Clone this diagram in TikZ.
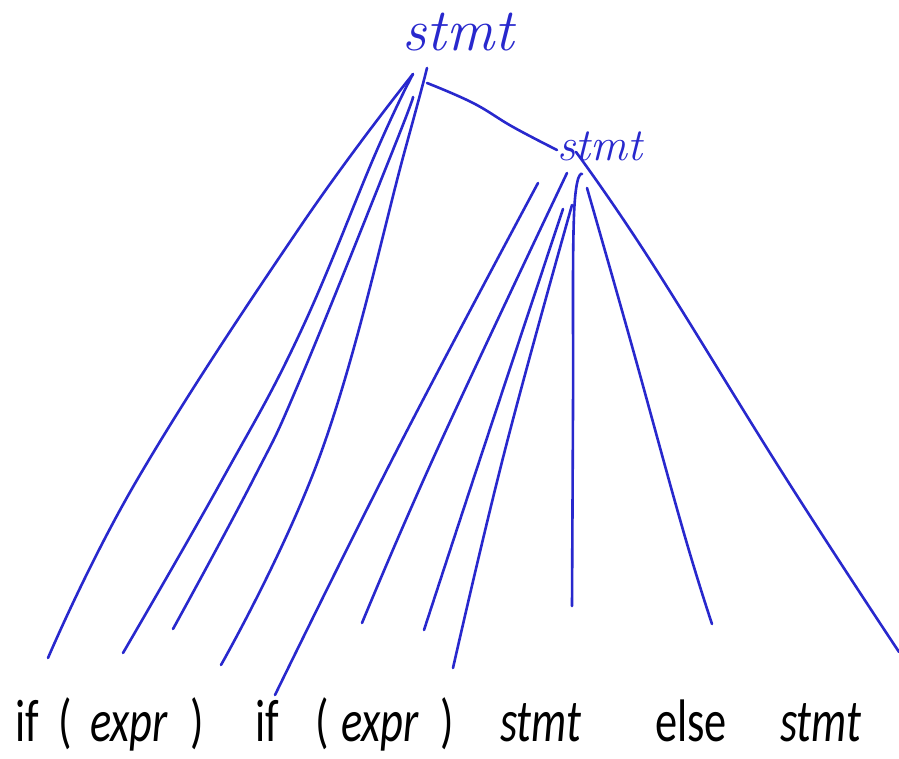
\documentclass[tikz,border=0pt]{standalone}
\usepackage{fontspec}
\usepackage{tikz}
\newfontfamily\calib[FakeStretch=0.74]{Carlito}
\definecolor{ink}{RGB}{40,40,205}

\begin{document}
\begin{tikzpicture}[x=1pt, y=1pt,
  hand/.style={text=ink, inner sep=0pt, font=\itshape\fontsize{60}{60}\selectfont},
  tok/.style={anchor=base west, inner sep=0pt, font=\calib\fontsize{60}{60}\selectfont},
  nterm/.style={tok, font=\calib\itshape\fontsize{60}{60}\selectfont},
  edge/.style={draw=ink, line width=2.6pt, line cap=round}
]
\useasboundingbox (0,0) rectangle (899,759);

% the two hand-written stmt nodes
\node[hand] (top) at (458,727) {stmt};
\node[hand, font=\itshape\fontsize{46}{46}\selectfont] (inner) at (600,613) {stmt};

% the tokens along the bottom
\node[tok] (if1) at (15,17) {if};
\node[tok] (lp1) at (58,17) {(};
\node[nterm] (expr1) at (90,17) {expr};
\node[tok] (rp1) at (190,17) {)};
\node[tok] (if2) at (255,17) {if};
\node[tok] (lp2) at (315,17) {(};
\node[nterm] (expr2) at (341,17) {expr};
\node[tok] (rp2) at (440,17) {)};
\node[nterm] (body1) at (500,17) {stmt};
\node[tok] (else) at (655,17) {else};
\node[nterm] (body2) at (780,17) {stmt};

% loose ends of the strokes
\coordinate (a1) at (413,685); \coordinate (b1) at (48,101);
\coordinate (a2) at (413,685); \coordinate (b2) at (123,106);
\coordinate (a3) at (413,662); \coordinate (b3) at (173,130);
\coordinate (a4) at (427,691); \coordinate (b4) at (221,94);
\coordinate (a5) at (427,676); \coordinate (b5) at (557,609);
\coordinate (c1) at (538,576); \coordinate (d1) at (275,64);
\coordinate (c2) at (567,586); \coordinate (d2) at (362,136);
\coordinate (c3) at (563,550); \coordinate (d3) at (424,129);
\coordinate (c4) at (572,554); \coordinate (d4) at (453,91);
\coordinate (c5) at (582,585); \coordinate (d5) at (572,153);
\coordinate (c6) at (587,571); \coordinate (d6) at (712,135);
\coordinate (c7) at (576,607); \coordinate (d7) at (899,107);

% children of the outer stmt
\draw[edge] plot[smooth, tension=0.7] coordinates {(a1) (300,532) (137,279) (b1)};
\draw[edge] plot[smooth, tension=0.7] coordinates {(a2) (377,609) (300,426) (222,279) (b2)};
\draw[edge] plot[smooth, tension=0.7] coordinates {(a3) (393,609) (300,379) (253,279) (b3)};
\draw[edge] plot[smooth, tension=0.7] coordinates {(a4) (405,609) (322,309) (b4)};
\draw[edge] plot[smooth, tension=0.7] coordinates {(a5) (473,656) (513,632) (b5)};

% children of the inner stmt
\draw[edge] plot[smooth, tension=0.7] coordinates {(c1) (397,309) (d1)};
\draw[edge] plot[smooth, tension=0.7] coordinates {(c2) (437,309) (d2)};
\draw[edge] plot[smooth, tension=0.7] coordinates {(c3) (483,309) (d3)};
\draw[edge] plot[smooth, tension=0.7] coordinates {(c4) (505,309) (d4)};
\draw[edge] plot[smooth, tension=0.7] coordinates {(c5) (574,544) (573,350) (d5)};
\draw[edge] plot[smooth, tension=0.7] coordinates {(c6) (630,420) (683,229) (d6)};
\draw[edge] plot[smooth, tension=0.7] coordinates {(c7) (650,499) (787,279) (d7)};
\end{tikzpicture}
\end{document}
